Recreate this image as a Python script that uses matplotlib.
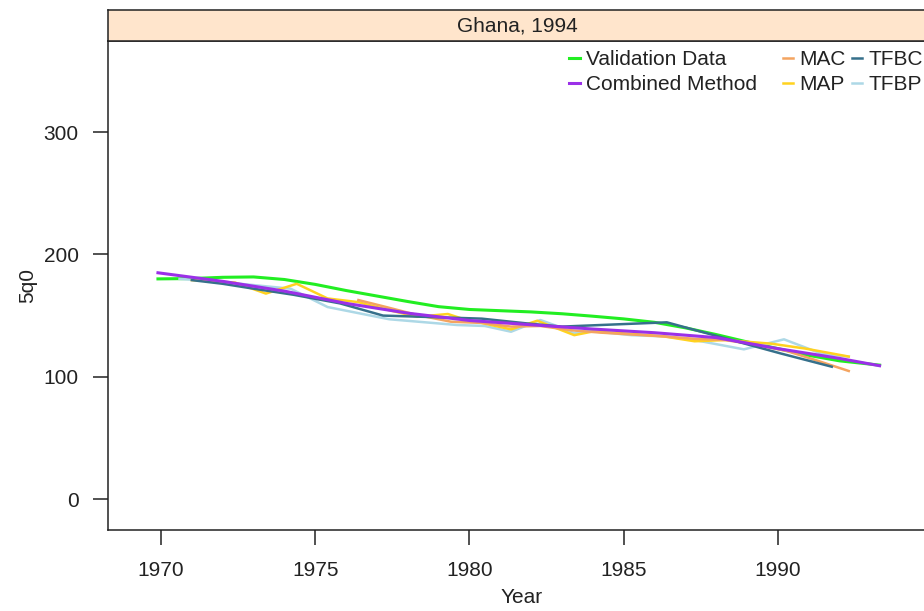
import matplotlib
matplotlib.use('Agg')
import matplotlib.pyplot as plt

plt.rcParams['font.family'] = ['Liberation Sans', 'DejaVu Sans']

# Validation data (smooth)
val_x = [1969.9, 1971, 1972, 1973, 1974, 1975, 1976, 1977, 1978, 1979, 1980, 1981,
         1982, 1983, 1984, 1985, 1986, 1987, 1988, 1989, 1990, 1991, 1992, 1993.3]
val_y = [180, 180.3, 181.3, 181.6, 179.5, 175.5, 170.5, 166, 161.5, 157.3, 155, 154,
         153, 151.5, 149.5, 147.3, 144.5, 140, 134.5, 128.5, 123, 117.5, 113, 109.5]

# Combined method (smooth)
comb_x = [1969.9, 1972, 1974, 1976, 1978, 1980, 1982, 1984, 1986, 1988, 1990, 1992, 1993.3]
comb_y = [185, 178, 170, 160, 152, 146, 142.5, 139, 136, 132, 123, 115, 109]

# MAC
mac_x = [1976.4, 1977.3, 1978.3, 1979.4, 1980.4, 1981.35, 1982.3, 1983.3, 1984.3,
         1985.3, 1986.3, 1987.3, 1988.3, 1989.3, 1990.3, 1991.3, 1992.3]
mac_y = [162.7, 157, 150.5, 145, 144, 141, 141.5, 138, 136,
         134.5, 133, 131, 130, 126, 121, 113, 104.7]

# MAP
map_x = [1971, 1972.4, 1973.4, 1974.4, 1975.4, 1976.4, 1977.3, 1978.3, 1979.3, 1979.9,
         1980.4, 1981.35, 1982.2, 1983.4, 1984.0, 1985.3, 1986.3, 1987.3, 1988.3,
         1989.8, 1990.9, 1992.3]
map_y = [179, 177, 168, 176, 164, 161, 155, 149, 151.3, 146.4,
         144, 138.7, 145.8, 134, 137, 135, 133, 129, 130,
         127, 123, 116.5]

# TFBC
tfbc_x = [1971, 1972, 1973, 1974.3, 1975.8, 1977.2, 1978.5, 1980.4, 1981.9, 1983.0,
          1986.4, 1990.1, 1991.75]
tfbc_y = [179, 176, 172, 167, 160, 150, 149, 147.5, 143.5, 141,
          144.5, 119, 108.2]

# TFBP
tfbp_x = [1970.6, 1971.5, 1972.4, 1974.2, 1975.4, 1977.4, 1979.6, 1980.5, 1981.35,
          1982.3, 1982.9, 1983.4, 1983.9, 1985.25, 1986.3, 1987.3, 1988.9, 1990.2,
          1991.4, 1992.3]
tfbp_y = [180, 178.5, 176.4, 172, 157, 147, 142.3, 141.5, 136.8,
          146.4, 140.9, 135.5, 137.5, 134, 133, 130, 122.4, 130.6,
          119, 116.4]

fs = 15
tc = '#222222'

fig = plt.figure(figsize=(9.24, 6.11), dpi=100)
left = 108/924
width = 1.012 - left
ax = fig.add_axes([left, 81/611, width, 489/611])
strip = fig.add_axes([left, 570/611, width, 31/611])

ax.plot(val_x, val_y, color='#22ee22', lw=2.2, label='Validation Data')
ax.plot(tfbp_x, tfbp_y, color='#add8e6', lw=1.8, label='TFBP')
ax.plot(map_x, map_y, color='#ffd21f', lw=1.8, label='MAP')
ax.plot(mac_x, mac_y, color='#f4a460', lw=1.8, label='MAC')
ax.plot(tfbc_x, tfbc_y, color='#36708b', lw=1.8, label='TFBC')
ax.plot(comb_x, comb_y, color='#9b30e8', lw=2.2, label='Combined Method')

ax.set_xlim(1968.28, 1995.1)
ax.set_ylim(-25.3, 374.5)
ax.set_xticks([1970, 1975, 1980, 1985, 1990])
ax.set_yticks([0, 100, 200, 300])
ax.tick_params(direction='out', length=11, width=1.1, pad=11, labelsize=fs,
               colors=tc, labelcolor=tc)
ax.tick_params(axis='y', pad=10)
for s in ax.spines.values():
    s.set_linewidth(1.1)
    s.set_color(tc)
ax.set_xlabel('Year', fontsize=fs, color=tc, labelpad=6)
ax.set_ylabel('5q0', fontsize=fs, color=tc, labelpad=5)

h, l = ax.get_legend_handles_labels()
hd = dict(zip(l, h))
kw = dict(frameon=False, fontsize=fs, handlelength=0.5, handletextpad=0.3,
          labelspacing=0.29, borderpad=0, borderaxespad=0, loc='upper right',
          bbox_transform=fig.transFigure, labelcolor=tc)
names_a = ['Validation Data', 'Combined Method']
names_b = ['MAC', 'MAP', 'TFBC', 'TFBP']
leg_a = ax.legend([hd[n] for n in names_a], names_a, ncol=1,
                  bbox_to_anchor=(757/924, 561/611), **kw)
ax.add_artist(leg_a)
leg_b = ax.legend([hd[n] for n in names_b], names_b, ncol=2, columnspacing=0.3,
                  bbox_to_anchor=(923/924, 561/611), **kw)

strip.set_facecolor('#ffe5cc')
strip.set_xticks([])
strip.set_yticks([])
for s in strip.spines.values():
    s.set_linewidth(1.1)
    s.set_color(tc)
fig.text(517/924, 585.5/611, 'Ghana, 1994', ha='center', va='center', fontsize=fs, color=tc)

fig.savefig('out.png', dpi=100)
